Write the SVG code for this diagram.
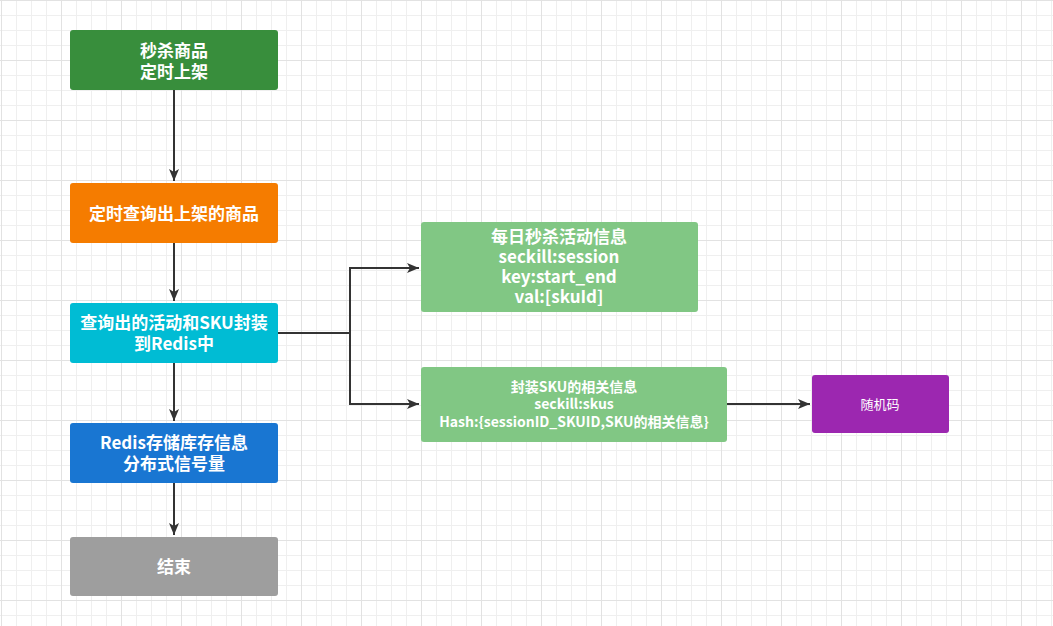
<svg xmlns="http://www.w3.org/2000/svg" width="1053" height="626" viewBox="0 0 1053 626">
<defs>
<pattern id="minor" width="15" height="15" patternUnits="userSpaceOnUse" x="1" y="0">
<path d="M0.5 0 V15 M0 0.5 H15" fill="none" stroke="#efefef" stroke-width="1"/>
</pattern>
<pattern id="major" width="60" height="60" patternUnits="userSpaceOnUse" x="1" y="0">
<path d="M0.5 0 V60 M0 0.5 H60" fill="none" stroke="#e2e2e2" stroke-width="1"/>
</pattern>
<marker id="arr" markerWidth="14" markerHeight="10" refX="12" refY="5" orient="auto" markerUnits="userSpaceOnUse">
<path d="M0 0 L12 5 L0 10 L3 5 Z" fill="#333333"/>
</marker>
</defs>
<style>
.node{stroke:none}
.t{font-family:"Noto Sans CJK SC","Microsoft YaHei",sans-serif;font-weight:bold;fill:#ffffff;text-anchor:middle}
.big{font-size:17px}
.small{font-size:14px}
.conn{fill:none;stroke:#333333;stroke-width:2}
</style>
<rect width="1053" height="626" fill="#ffffff"/>
<rect width="1053" height="626" fill="url(#minor)"/>
<rect width="1053" height="626" fill="url(#major)"/>
<g id="connectors">
<path class="conn" d="M174 90 V181" marker-end="url(#arr)"/>
<path class="conn" d="M174 243 V301" marker-end="url(#arr)"/>
<path class="conn" d="M174 363 V421" marker-end="url(#arr)"/>
<path class="conn" d="M174 483 V535" marker-end="url(#arr)"/>
<path class="conn" d="M278 333 H350 V268 H419" marker-end="url(#arr)"/>
<path class="conn" d="M350 333 V404 H419" marker-end="url(#arr)"/>
<path class="conn" d="M727 404 H810" marker-end="url(#arr)"/>
</g>
<g id="n1">
<rect class="node" x="70" y="30" width="208" height="60" rx="3" fill="#388e3c"/>
<text class="t big"><tspan x="174" y="57">秒杀商品</tspan><tspan x="174" y="78">定时上架</tspan></text>
</g>
<g id="n2">
<rect class="node" x="70" y="183" width="208" height="60" rx="3" fill="#f57c00"/>
<text class="t big" x="174" y="220">定时查询出上架的商品</text>
</g>
<g id="n3">
<rect class="node" x="70" y="303" width="208" height="60" rx="3" fill="#00bcd4"/>
<text class="t big"><tspan x="174" y="329">查询出的活动和SKU封装</tspan><tspan x="174" y="350">到Redis中</tspan></text>
</g>
<g id="n4">
<rect class="node" x="70" y="423" width="208" height="60" rx="3" fill="#1976d2"/>
<text class="t big"><tspan x="174" y="449">Redis存储库存信息</tspan><tspan x="174" y="470">分布式信号量</tspan></text>
</g>
<g id="n5">
<rect class="node" x="70" y="537" width="208" height="59" rx="3" fill="#9e9e9e"/>
<text class="t big" x="174" y="573">结束</text>
</g>
<g id="n6">
<rect class="node" x="421" y="222" width="277" height="90" rx="3" fill="#81c784"/>
<text class="t big"><tspan x="559" y="243">每日秒杀活动信息</tspan><tspan x="559" y="263">seckill:session</tspan><tspan x="559" y="283">key:start_end</tspan><tspan x="559" y="303">val:[skuId]</tspan></text>
</g>
<g id="n7">
<rect class="node" x="421" y="367" width="306" height="75" rx="3" fill="#81c784"/>
<text class="t small"><tspan x="574" y="392">封装SKU的相关信息</tspan><tspan x="574" y="409">seckill:skus</tspan><tspan x="574" y="427">Hash:{sessionID_SKUID,SKU的相关信息}</tspan></text>
</g>
<g id="n8">
<rect class="node" x="812" y="375" width="137" height="58" rx="3" fill="#9c27b0"/>
<text class="t" x="880" y="409" style="font-size:13px;font-weight:normal">随机码</text>
</g>
</svg>
